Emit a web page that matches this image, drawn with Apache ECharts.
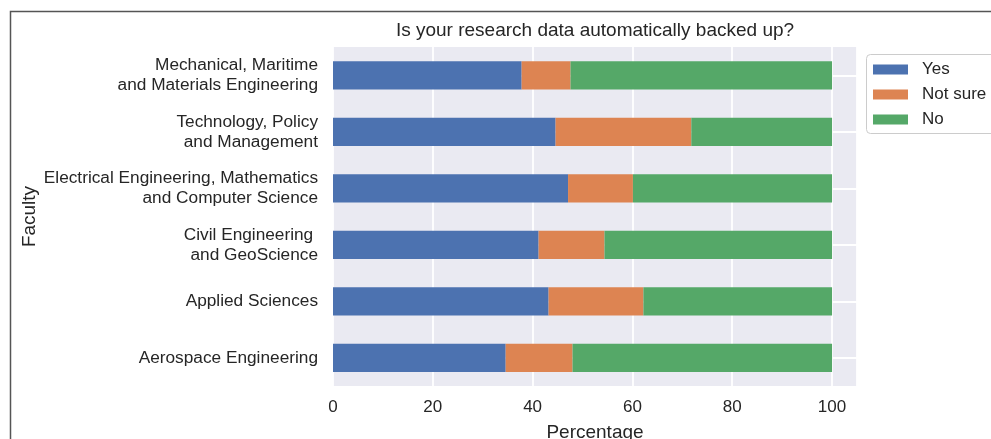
<!DOCTYPE html>
<html>
<head>
<meta charset="utf-8">
<script src="https://cdn.jsdelivr.net/npm/echarts@6/dist/echarts.min.js"></script>
<style>
html,body{margin:0;padding:0;background:#fff;}
#c{width:991px;height:439px;}
</style>
</head>
<body>
<div id="c"></div>
<script>
// Categories listed bottom to top
const faculties = [
  "Aerospace Engineering",
  "Applied Sciences",
  "Civil Engineering \nand GeoScience",
  "Electrical Engineering, Mathematics\nand Computer Science",
  "Technology, Policy\nand Management",
  "Mechanical, Maritime\nand Materials Engineering"
];
const yesValues     = [34.6, 43.2, 41.2, 47.1, 44.6, 37.8];
const notSureValues = [13.4, 19.0, 13.2, 13.0, 27.2,  9.8];
const noValues      = [52.0, 37.8, 45.6, 39.9, 28.2, 52.4];
const seriesNames = ["Yes", "Not sure", "No"];
const xTicks = [0, 20, 40, 60, 80, 100];
const titleText = "Is your research data automatically backed up?";

const FONT = "'Liberation Sans', Arial, 'DejaVu Sans', sans-serif";
const TXT = "#262626";
const colors = ["#4C72B0", "#DD8452", "#55A868"];

const chart = echarts.init(document.getElementById('c'));
const valuesBySeries = [yesValues, notSureValues, noValues];

chart.setOption({
  animation: false,
  backgroundColor: "#ffffff",
  textStyle: { fontFamily: FONT },
  grid: {
    left: 333, right: 134, top: 47, bottom: 53,
    backgroundColor: "#EAEAF2", show: true, borderWidth: 0,
    containLabel: false, outerBoundsMode: "none"
  },
  legend: {
    orient: "vertical",
    left: 866, top: 54,
    padding: [7, 10, 8, 7],
    itemWidth: 35, itemHeight: 10, itemGap: 8,
    backgroundColor: "transparent",
    borderWidth: 0,
    data: seriesNames,
    icon: "rect",
    textStyle: { fontSize: 17, color: TXT, fontFamily: FONT, padding: [0, 0, 0, 9], lineHeight: 16 }
  },
  xAxis: {
    type: "value", min: 0, max: 105, interval: 20,
    name: "Percentage", nameLocation: "middle", nameGap: 37, nameMoveOverlap: false,
    nameTextStyle: { fontSize: 19, color: TXT, fontFamily: FONT },
    axisLine: { show: false }, axisTick: { show: false },
    axisLabel: {
      fontSize: 17, color: TXT, margin: 13, fontFamily: FONT,
      formatter: v => (xTicks.indexOf(v) >= 0 ? String(v) : "")
    },
    splitLine: { show: true, lineStyle: { color: "#ffffff", width: 1.8 } }
  },
  yAxis: {
    type: "category", data: faculties,
    name: "Faculty", nameLocation: "middle", nameGap: 294, nameRotate: 90, nameMoveOverlap: false,
    nameTextStyle: { fontSize: 19, color: TXT, fontFamily: FONT },
    axisLine: { show: false }, axisTick: { show: false },
    axisLabel: { fontSize: 17.25, color: TXT, margin: 15, lineHeight: 20, fontFamily: FONT },
    splitLine: { show: true, alignWithLabel: true, lineStyle: { color: "#ffffff", width: 1.8 } }
  },
  series: seriesNames.map((n, i) => ({
    name: n, type: "bar", stack: "total",
    data: valuesBySeries[i],
    barWidth: "50%",
    itemStyle: { color: colors[i] }
  })),
  graphic: [
    {
      type: "rect", z: 1, silent: true,
      shape: { x: 866.5, y: 54.5, width: 200, height: 79, r: 4 },
      style: { fill: "rgba(255,255,255,0.9)", stroke: "#cccccc", lineWidth: 1 }
    },
    {
      type: "text", x: 595, y: 31,
      style: { text: titleText, fill: TXT, font: "19px " + FONT, textAlign: "center", textVerticalAlign: "middle" }
    },
    {
      type: "rect", shape: { x: 10.5, y: 11.5, width: 1100, height: 600 },
      style: { fill: null, stroke: "#555555", lineWidth: 1.5 }, silent: true
    }
  ]
});
</script>
</body>
</html>
